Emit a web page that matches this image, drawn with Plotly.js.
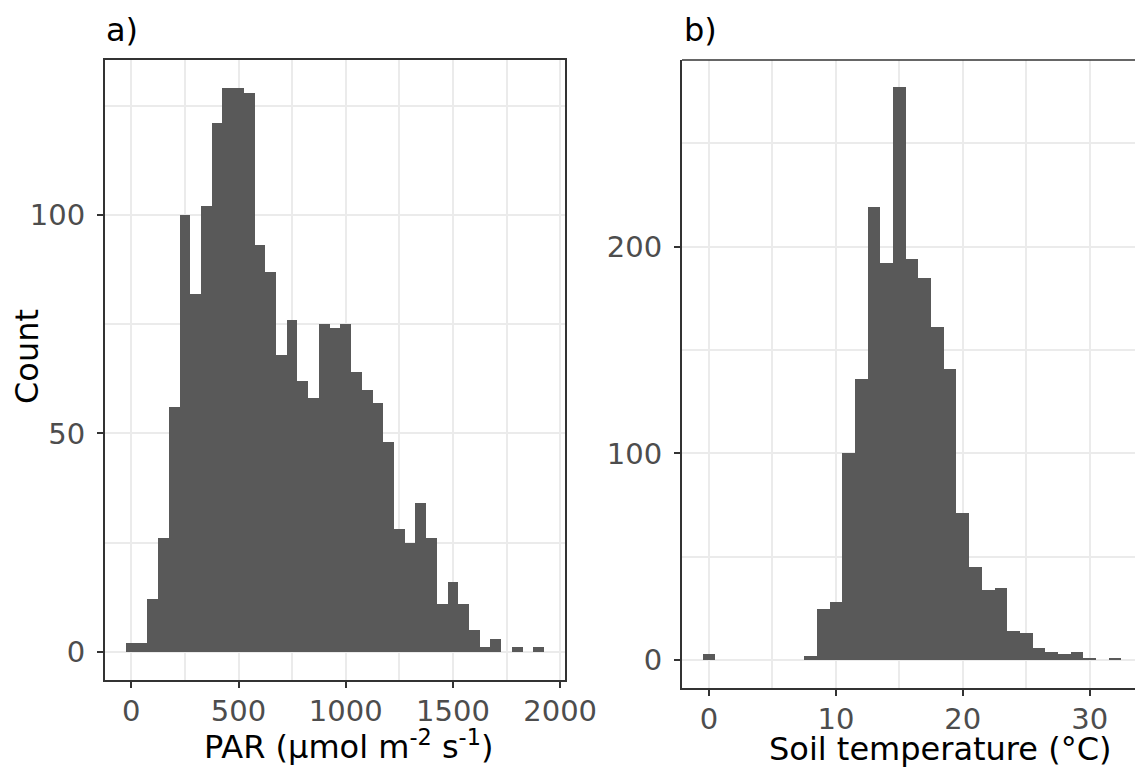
<!DOCTYPE html>
<html>
<head>
<meta charset="utf-8">
<script src="https://cdn.plot.ly/plotly-3.0.1.min.js"></script>
<style>
  html, body { margin: 0; padding: 0; background: #ffffff; }
  #chart { width: 1135px; height: 771px; }
</style>
</head>
<body>
<div id="chart"></div>
<script>
// Panel a: PAR histogram (bin width 50, bin centres)
const parBins = [0, 50, 100, 150, 200, 250, 300, 350, 400, 450, 500, 550, 600, 650,
  700, 750, 800, 850, 900, 950, 1000, 1050, 1100, 1150, 1200, 1250, 1300, 1350,
  1400, 1450, 1500, 1550, 1600, 1650, 1700, 1750, 1800, 1850, 1900];
const parCounts = [2, 2, 12, 26, 56, 100, 82, 102, 121, 129, 129, 128, 93, 87,
  68, 76, 62, 58, 75, 74, 75, 64, 60, 57, 48, 28, 25, 34,
  26, 11, 16, 11, 5, 1, 3, 0, 1, 0, 1];
const parBinWidth = 50;

// Panel b: soil temperature histogram (bin width 1, bin centres)
const soilBins = [0, 1, 2, 3, 4, 5, 6, 7, 8, 9, 10, 11, 12, 13, 14, 15, 16, 17, 18,
  19, 20, 21, 22, 23, 24, 25, 26, 27, 28, 29, 30, 31, 32];
const soilCounts = [3, 0, 0, 0, 0, 0, 0, 0, 2, 25, 28, 100, 136, 219, 192, 277, 194, 185, 161,
  141, 71, 45, 34, 35, 14, 13, 6, 4, 3, 4, 1, 0, 1];
const soilBinWidth = 1;

// Tick values and labels
const parTicks = [0, 500, 1000, 1500, 2000];
const parTickText = ['0', '500', '1000', '1500', '2000'];
const countTicksA = [0, 50, 100];
const soilTicks = [0, 10, 20, 30];
const soilTickText = ['0', '10', '20', '30'];
const countTicksB = [0, 100, 200];

const W = 1135, H = 771;
const px = v => v / W;
const py = v => 1 - v / H;

const barColor = '#595959';
const gridColor = '#EBEBEB';
const lineColor = '#333333';
const tickFont = { family: 'DejaVu Sans, Verdana, sans-serif', size: 29, color: '#4D4D4D' };
const titleFont = { family: 'DejaVu Sans, Verdana, sans-serif', size: 32, color: '#000000' };

const traces = [
  {
    type: 'bar', x: parBins, y: parCounts,
    width: parBins.map(() => parBinWidth),
    marker: { color: barColor, line: { width: 0 } },
    xaxis: 'x', yaxis: 'y', hoverinfo: 'x+y', showlegend: false
  },
  {
    type: 'bar', x: soilBins, y: soilCounts,
    width: soilBins.map(() => soilBinWidth),
    marker: { color: barColor, line: { width: 0 } },
    xaxis: 'x2', yaxis: 'y2', hoverinfo: 'x+y', showlegend: false
  }
];

function axisBase(extra) {
  return Object.assign({
    showgrid: true, gridcolor: gridColor, gridwidth: 2,
    zeroline: false,
    showline: true, linecolor: lineColor, linewidth: 2,
    ticks: 'outside', ticklen: 6, tickwidth: 2, tickcolor: lineColor,
    tickfont: tickFont, tickmode: 'array',
    fixedrange: true
  }, extra);
}

const minorGrid = vals => ({ tickvals: vals, showgrid: true, gridcolor: gridColor, gridwidth: 2, ticks: '' });

const layout = {
  width: W, height: H,
  margin: { l: 0, r: 0, t: 0, b: 0, pad: 0 },
  paper_bgcolor: '#ffffff', plot_bgcolor: '#ffffff',
  bargap: 0, barmode: 'overlay',
  showlegend: false,
  xaxis: axisBase({
    domain: [px(105), px(565)], range: [-122.5, 2022.5],
    tickvals: parTicks, ticktext: parTickText,
    minor: minorGrid([250, 750, 1250, 1750]),
    mirror: true, anchor: 'y', ticklabelstandoff: -2
  }),
  yaxis: axisBase({
    domain: [py(680), py(60)], range: [-6.45, 135.45],
    tickvals: countTicksA, ticktext: countTicksA.map(String),
    minor: minorGrid([25, 75, 125]),
    mirror: true, anchor: 'x', ticklabelstandoff: 6
  }),
  xaxis2: axisBase({
    domain: [px(682), 1], range: [-2.13, 33.57],
    tickvals: soilTicks, ticktext: soilTickText,
    minor: minorGrid([5, 15, 25]),
    anchor: 'y2', ticklabelstandoff: -2
  }),
  yaxis2: axisBase({
    domain: [py(688), py(60)], range: [-13.4, 290.2],
    tickvals: countTicksB, ticktext: countTicksB.map(String),
    minor: minorGrid([50, 150, 250]),
    anchor: 'x2', ticklabelstandoff: 6
  }),
  shapes: [
    // top border of panel b
    { type: 'line', xref: 'x2 domain', yref: 'y2 domain', x0: 0, x1: 1, y0: 1, y1: 1,
      line: { color: lineColor, width: 1.5 } }
  ],
  annotations: [
    { text: 'a)', xref: 'paper', yref: 'paper', x: px(104), y: py(30), xanchor: 'left', yanchor: 'middle',
      showarrow: false, font: titleFont },
    { text: 'b)', xref: 'paper', yref: 'paper', x: px(682), y: py(30), xanchor: 'left', yanchor: 'middle',
      showarrow: false, font: titleFont },
    { text: 'Count', xref: 'paper', yref: 'paper', x: px(27), y: py(357), xanchor: 'center', yanchor: 'middle',
      textangle: -90, showarrow: false, font: titleFont },
    { text: 'PAR (µmol m<sup>-2</sup> s<sup>-1</sup>)', xref: 'paper', yref: 'paper', x: px(348), y: py(745),
      xanchor: 'center', yanchor: 'middle', showarrow: false, font: titleFont },
    { text: 'Soil temperature (°C)', xref: 'paper', yref: 'paper', x: px(940), y: py(749),
      xanchor: 'center', yanchor: 'middle', showarrow: false, font: titleFont }
  ]
};

Plotly.newPlot('chart', traces, layout, { displayModeBar: false, staticPlot: true });
</script>
</body>
</html>
